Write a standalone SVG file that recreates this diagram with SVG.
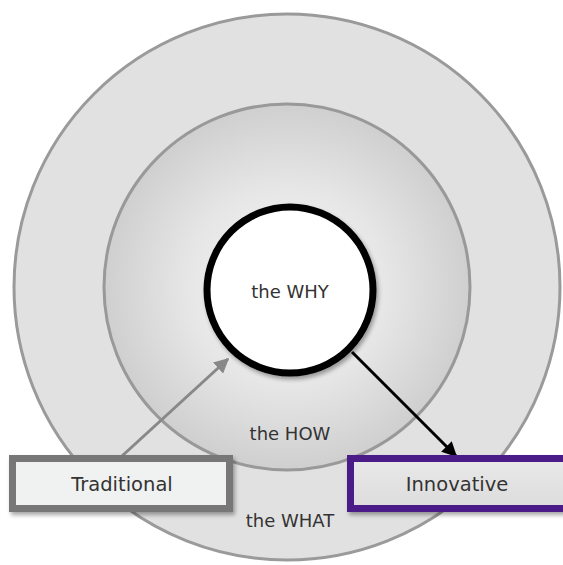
<svg xmlns="http://www.w3.org/2000/svg" width="563" height="565" viewBox="0 0 563 565">
<defs>
<style>
.lbl{font-family:"DejaVu Sans","Liberation Sans",sans-serif;fill:#333;text-anchor:middle}
.ring{font-size:18px}
.box{font-size:19.5px}
</style>
<radialGradient id="mid" cx="0.5" cy="0.5" r="0.5">
<stop offset="0" stop-color="#f7f7f7"/>
<stop offset="0.55" stop-color="#e6e6e6"/>
<stop offset="1" stop-color="#cfcfcf"/>
</radialGradient>
<linearGradient id="inn" x1="0" y1="0" x2="0" y2="1">
<stop offset="0" stop-color="#e9e9e9"/>
<stop offset="1" stop-color="#dcdcdc"/>
</linearGradient>
<filter id="sh" x="-20%" y="-20%" width="140%" height="160%">
<feGaussianBlur in="SourceAlpha" stdDeviation="2"/>
<feOffset dx="2" dy="3"/>
<feComponentTransfer><feFuncA type="linear" slope="0.35"/></feComponentTransfer>
<feMerge><feMergeNode/><feMergeNode in="SourceGraphic"/></feMerge>
</filter>
<marker id="ag" viewBox="0 0 10 10" refX="9" refY="5" markerWidth="5" markerHeight="5" orient="auto" markerUnits="strokeWidth">
<path d="M0,0 L10,5 L0,10 z" fill="#888"/>
</marker>
<marker id="ab" viewBox="0 0 10 10" refX="9" refY="5" markerWidth="5" markerHeight="5" orient="auto" markerUnits="strokeWidth">
<path d="M0,0 L10,5 L0,10 z" fill="#000"/>
</marker>
</defs>
<rect width="563" height="565" fill="#fff"/>
<g id="what">
<circle cx="287" cy="287" r="273" fill="#e1e1e1" stroke="#9a9a9a" stroke-width="3"/>
<text class="lbl ring" x="290" y="527">the WHAT</text>
</g>
<g id="how">
<circle cx="287" cy="287" r="183" fill="url(#mid)" stroke="#999" stroke-width="3"/>
<text class="lbl ring" x="290" y="440">the HOW</text>
</g>
<g id="why">
<circle cx="290" cy="290" r="83" fill="#fff" stroke="#000" stroke-width="7" filter="url(#sh)"/>
<text class="lbl ring" x="290" y="298">the WHY</text>
</g>
<g id="connectors">
<line x1="122" y1="456" x2="228" y2="359" stroke="#888" stroke-width="3" marker-end="url(#ag)"/>
<line x1="352" y1="352" x2="456" y2="456" stroke="#000" stroke-width="3" marker-end="url(#ab)"/>
</g>
<g id="traditional">
<rect x="12.5" y="458.5" width="217" height="50" fill="#f0f1f1" stroke="#777" stroke-width="7" filter="url(#sh)"/>
<text class="lbl box" x="122" y="491">Traditional</text>
</g>
<g id="innovative">
<rect x="350.5" y="458.5" width="220" height="50" fill="url(#inn)" stroke="#4b1a88" stroke-width="7" filter="url(#sh)"/>
<text class="lbl box" x="457" y="491">Innovative</text>
</g>
</svg>
